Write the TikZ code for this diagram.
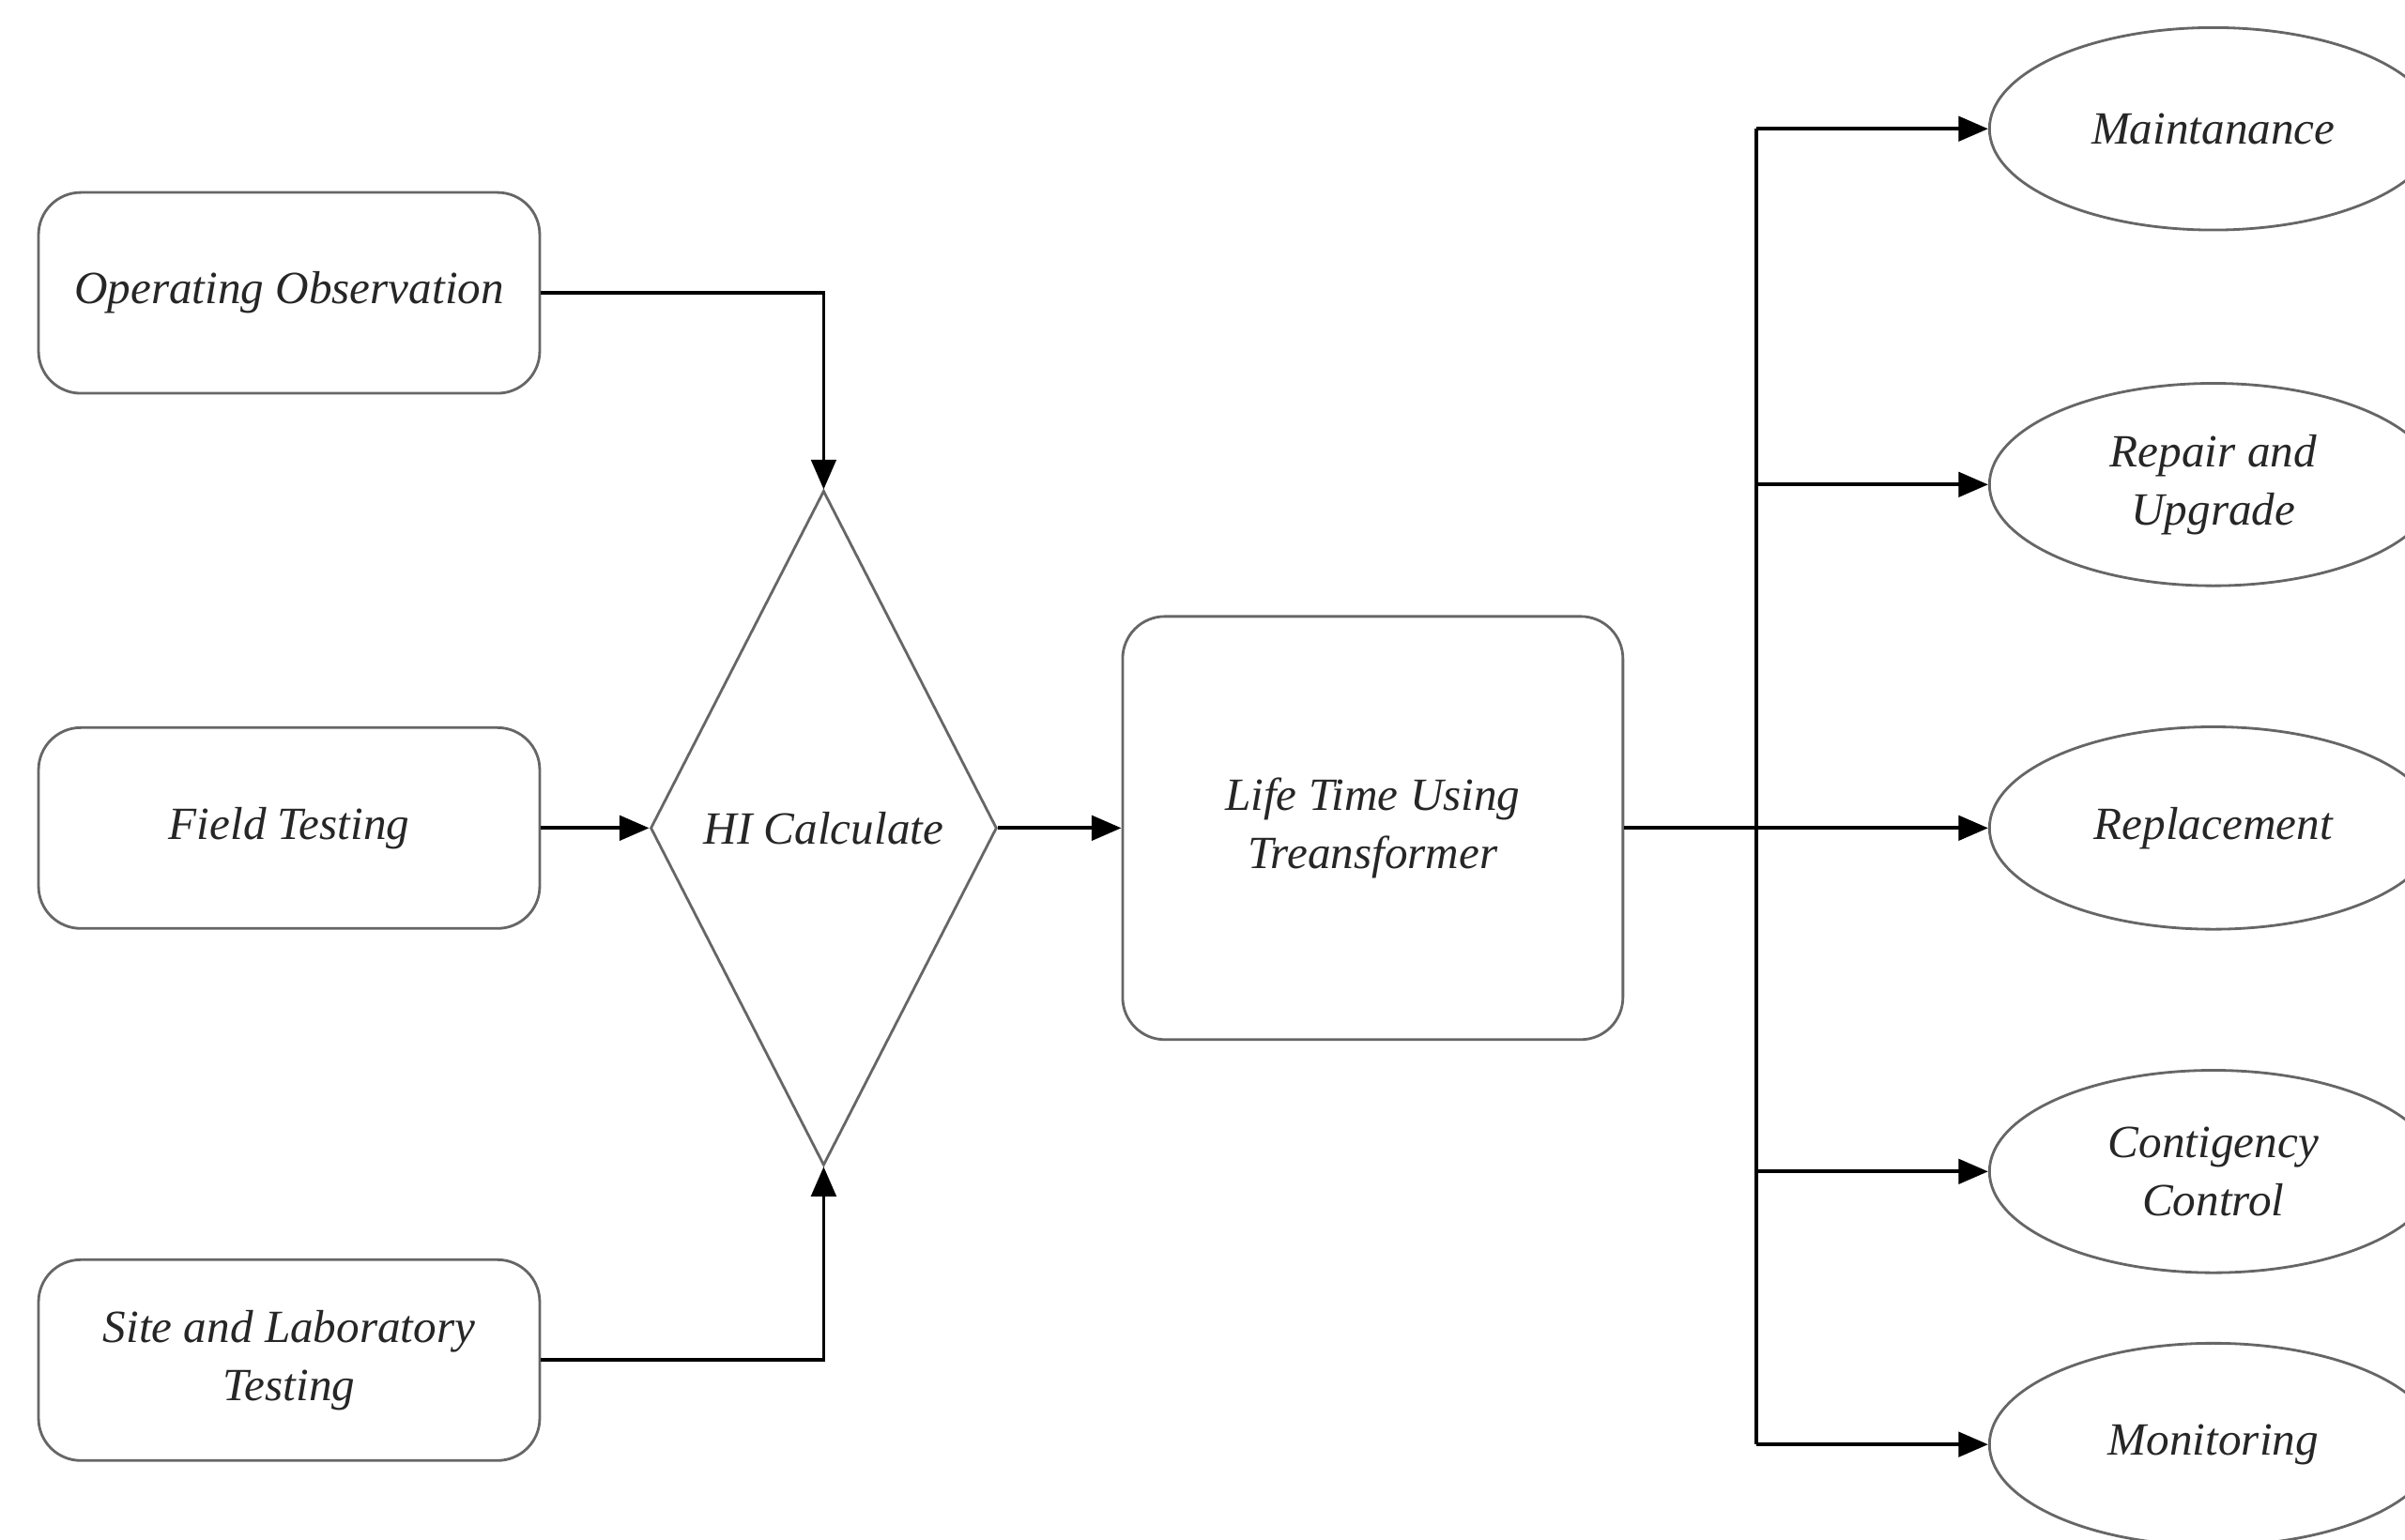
\documentclass[tikz,border=0pt]{standalone}
\usepackage{fontspec}
\setmainfont{Liberation Serif}
\usetikzlibrary{shapes.geometric,arrows.meta}
\begin{document}
\begin{tikzpicture}[x=0.01634cm,y=-0.01634cm,
 box/.style={draw=black!60,line width=0.8pt,rounded corners=0.45cm,minimum width=5.34cm,minimum height=2.14cm,align=center,inner sep=0pt},
 oval/.style={ellipse,draw=black!60,line width=0.8pt,minimum width=4.77cm,minimum height=2.157cm,align=center,inner sep=0pt},
 dia/.style={diamond,draw=black!60,line width=0.8pt,minimum width=3.69cm,minimum height=7.19cm,inner sep=0pt},
 lbl/.style={font=\fontsize{14}{17.6}\selectfont\itshape,text=black!85},
 wire/.style={draw=black,line width=1.1pt},
 conn/.style={wire,-{Triangle[length=9pt,width=7.5pt]}},
]
\useasboundingbox (0,0) rectangle (1568,1004);
\clip (0,0) rectangle (1568,1004);
\fill[white] (0,0) rectangle (1568,1004);

\node[box,lbl] (oo) at (188.5,191) {Operating Observation};
\node[box,lbl] (ft) at (188.5,540) {Field Testing};
\node[box,lbl] (sl) at (188.5,887) {Site and Laboratory\\Testing};
\node[dia,lbl] (hi) at (537,540) {HI Calculate};
\node[box,lbl,minimum width=5.33cm,minimum height=4.51cm] (lt) at (895,540) {Life Time Using\\Treansformer};

\node[oval,lbl] (e1) at (1443,84) {Maintanance};
\node[oval,lbl] (e2) at (1443,316) {Repair and\\Upgrade};
\node[oval,lbl] (e3) at (1443,540) {Replacement};
\node[oval,lbl] (e4) at (1443,764) {Contigency\\Control};
\node[oval,lbl] (e5) at (1443,942) {Monitoring};

\draw[conn] (oo.east) -| (hi.north);
\draw[conn] (ft.east) -- (hi.west);
\draw[conn] (sl.east) -| (hi.south);
\draw[conn] (hi.east) -- (lt.west);
\draw[conn] (lt.east) -- (e3.west);

\coordinate (t1) at (1145,84);
\coordinate (t2) at (1145,316);
\coordinate (t4) at (1145,764);
\coordinate (t5) at (1145,942);
\draw[wire] (t1) -- (t5);
\draw[conn] (t1) -- (e1.west);
\draw[conn] (t2) -- (e2.west);
\draw[conn] (t4) -- (e4.west);
\draw[conn] (t5) -- (e5.west);
\end{tikzpicture}
\end{document}
